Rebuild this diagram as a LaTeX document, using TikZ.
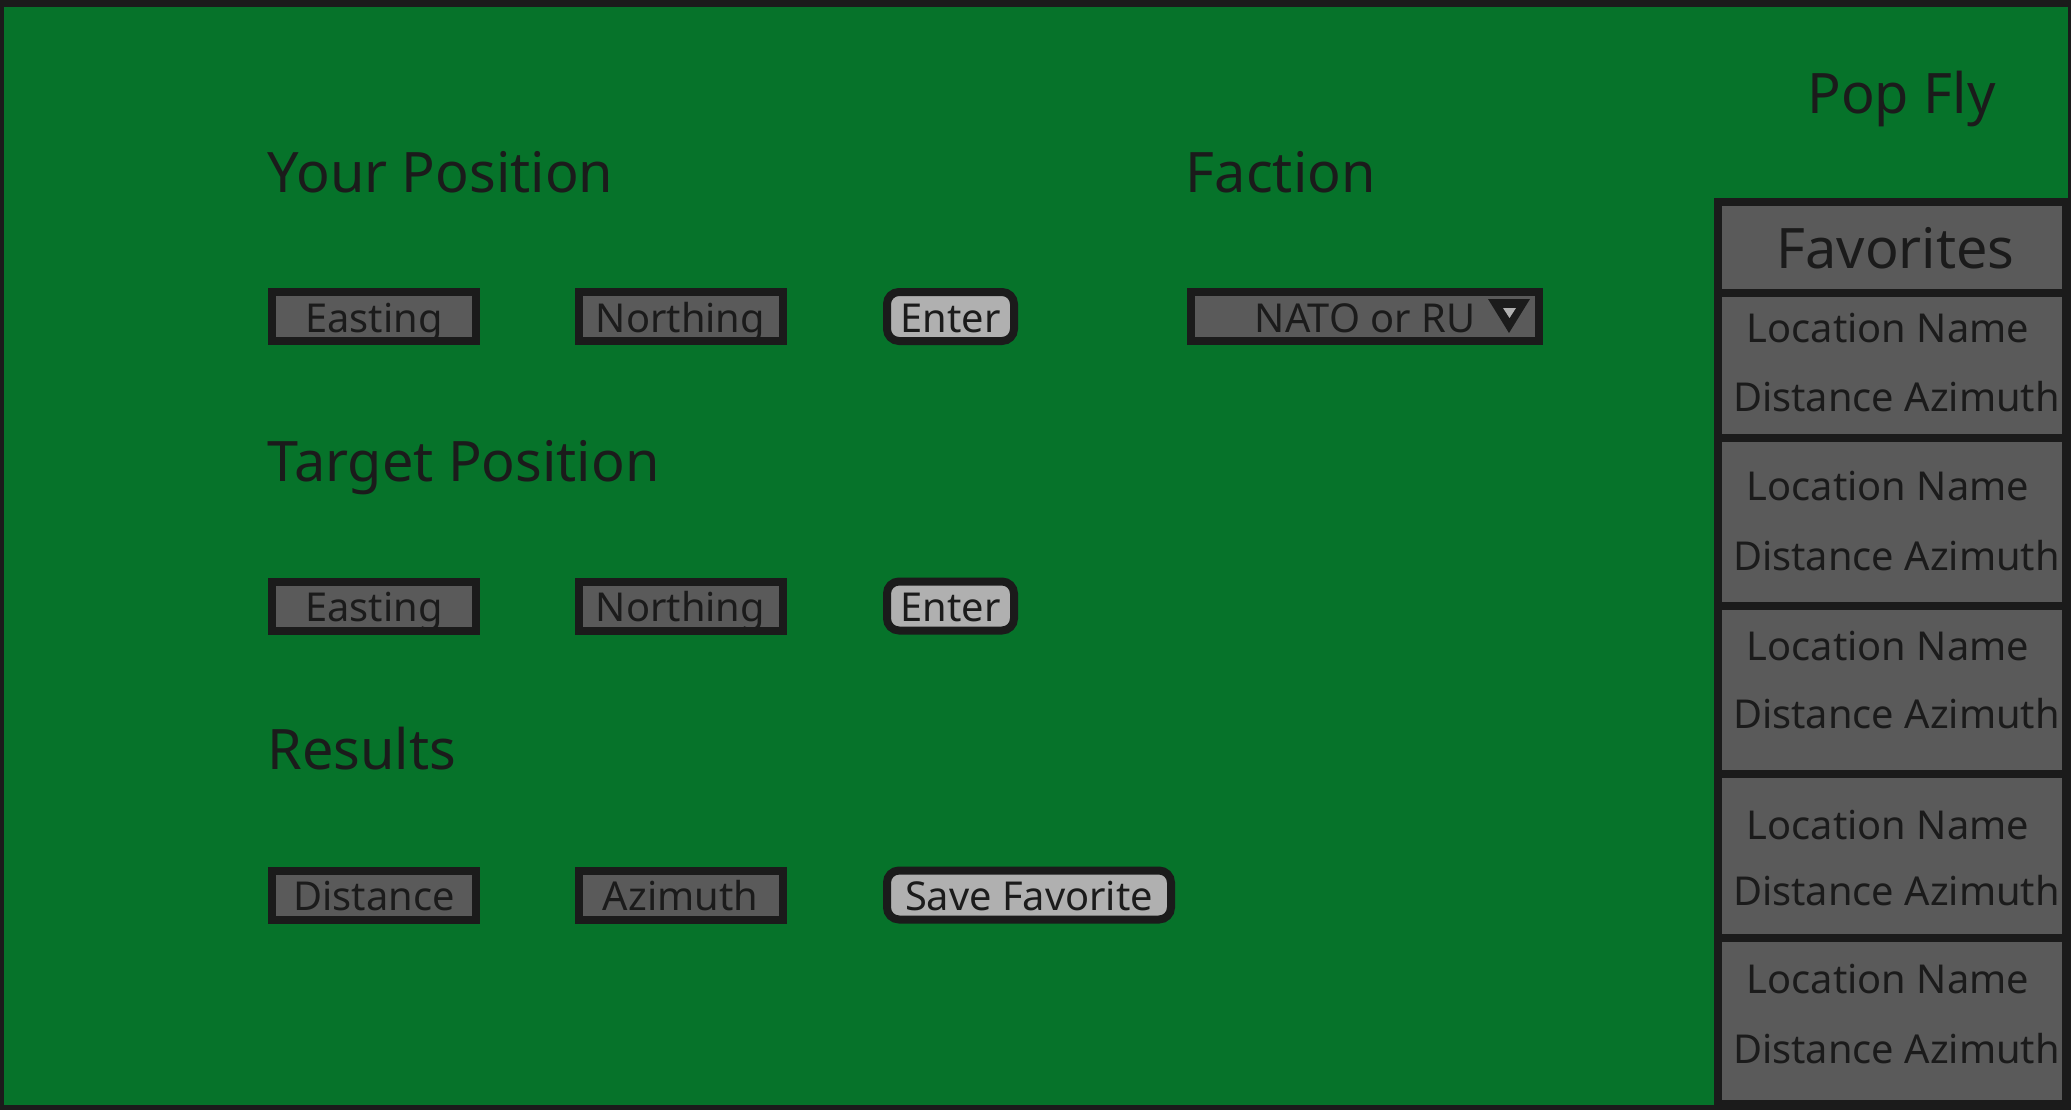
\documentclass[tikz,border=0pt]{standalone}
\usepackage{fontspec}
\setmainfont{Noto Sans}
\definecolor{bggreen}{HTML}{06732A}
\definecolor{dark}{HTML}{1B1B1B}
\definecolor{fieldgray}{HTML}{5A5A5A}
\definecolor{btngray}{HTML}{B0B0B0}
\begin{document}
\begin{tikzpicture}[x=0.5pt,y=-0.5pt,
  field/.style={draw=dark, fill=fieldgray, line width=4pt, inner sep=0pt, text=dark,
    font=\fontsize{19.9}{24}\selectfont, text height=17.5pt, text depth=2pt,
    minimum height=24.5pt, minimum width=102pt},
  btn/.style={field, fill=btngray, rounded corners=6pt},
  heading/.style={anchor=base west, inner sep=0pt, text=dark, font=\fontsize{27.9}{34}\selectfont},
  cell/.style={draw=dark, fill=fieldgray, line width=4pt, inner sep=0pt, minimum width=174pt},
  celltext/.style={anchor=base, inner sep=0pt, text=dark, font=\fontsize{19.9}{24}\selectfont},
  title/.style={anchor=base, inner sep=0pt, text=dark, font=\fontsize{27.9}{34}\selectfont}
]
\useasboundingbox (0,0) rectangle (2071,1110);
% frame
\fill[dark] (0,0) rectangle (2071,1110);
\fill[bggreen] (4,6.5) rectangle (2068,1105);

% title
\node[title] (popfly) at (1901.5,113) {Pop Fly};

% headings
\node[heading] (yourpos) at (267,192.5) {Your Position};
\node[heading] (faction) at (1185.5,192.5) {Faction};
\node[heading] (targetpos) at (267,481) {Target Position};
\node[heading] (results) at (267,769) {Results};

% row 1
\node[field] (east1) at (374,316.5) {Easting};
\node[field] (north1) at (680.5,316.5) {Northing};
\node[btn, minimum width=63.5pt] (enter1) at (950.5,316.5) {Enter};
\node[field, minimum width=174pt] (nato) at (1365,316.5) {NATO or RU};
\fill[dark] (1488,299) -- (1530,299) -- (1509,333) -- cycle;
\fill[btngray] (1503,308) -- (1516,308) -- (1509.5,318) -- cycle;

% row 2
\node[field] (east2) at (374,606) {Easting};
\node[field] (north2) at (680.5,606) {Northing};
\node[btn, minimum width=63.5pt] (enter2) at (950.5,606) {Enter};

% row 3
\node[field] (dist) at (374,895) {Distance};
\node[field] (azim) at (680.5,895) {Azimuth};
\node[btn, minimum width=142pt] (save) at (1029,895) {Save Favorite};

% favorites panel
\node[cell, minimum height=45.5pt] (favhead) at (1892,247.5) {};
\node[cell, minimum height=72.25pt] (fav1) at (1892,365.25) {};
\node[cell, minimum height=84.25pt] (fav2) at (1892,521.75) {};
\node[cell, minimum height=83.75pt] (fav3) at (1892,689.75) {};
\node[cell, minimum height=82.25pt] (fav4) at (1892,855.75) {};
\node[cell, minimum height=83pt] (fav5) at (1892,1021) {};

\node[title] (favtitle) at (1895.5,268) {Favorites};
\node[celltext] (ln1) at (1888,342) {Location Name};
\node[celltext] (da1) at (1896.5,411) {Distance Azimuth};
\node[celltext] (ln2) at (1888,500) {Location Name};
\node[celltext] (da2) at (1896.5,570) {Distance Azimuth};
\node[celltext] (ln3) at (1888,660) {Location Name};
\node[celltext] (da3) at (1896.5,728) {Distance Azimuth};
\node[celltext] (ln4) at (1888,839) {Location Name};
\node[celltext] (da4) at (1896.5,905) {Distance Azimuth};
\node[celltext] (ln5) at (1888,993) {Location Name};
\node[celltext] (da5) at (1896.5,1063) {Distance Azimuth};
\end{tikzpicture}
\end{document}
